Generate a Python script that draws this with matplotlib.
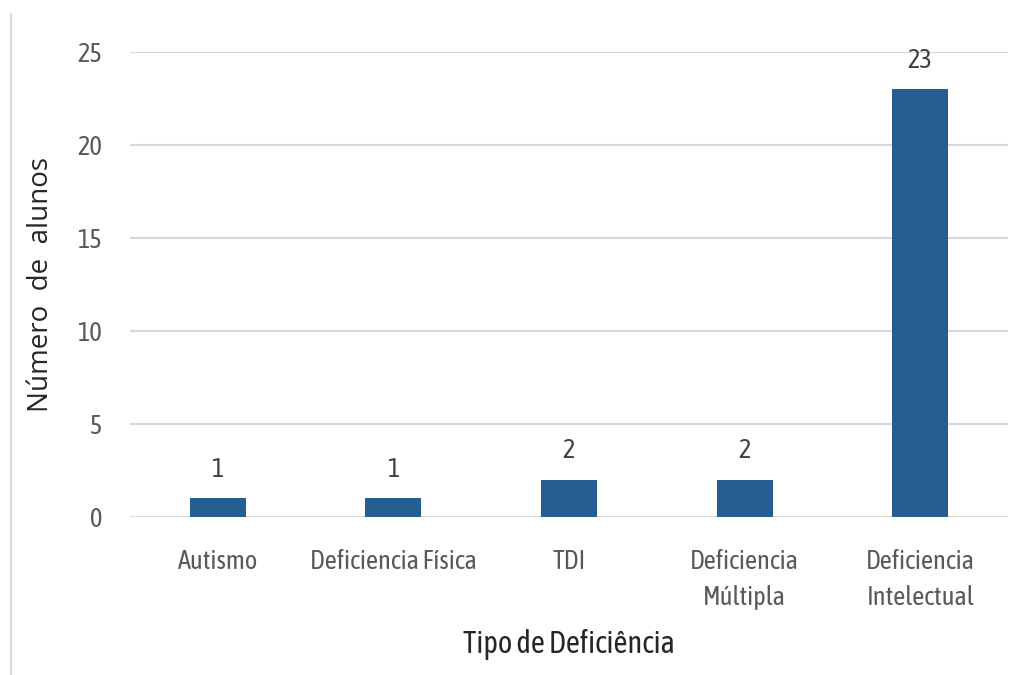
import matplotlib.pyplot as plt

categorias = ['Autismo', 'Deficiencia Física', 'TDI', 'Deficiencia\nMúltipla', 'Deficiencia\nIntelectual']
alunos = [1, 1, 2, 2, 23]
yticks = [0, 5, 10, 15, 20, 25]

plt.rcParams['font.family'] = ['Asap Condensed', 'DejaVu Sans']

fig = plt.figure(figsize=(10.24, 6.75), dpi=100)
ax = fig.add_axes([130 / 1024, 1 - 517 / 675, 878 / 1024, 465 / 675])

x = range(len(categorias))
barras = ax.bar(x, alunos, width=0.32, color='#255E91', zorder=3)
ax.bar_label(barras, padding=12, fontsize=19, color='#404040')

ax.set_xlim(-0.5, 4.5)
ax.set_ylim(0, 25)
ax.set_yticks(yticks)
ax.set_xticks(list(x))
ax.set_xticklabels(categorias, linespacing=1.55)
ax.tick_params(axis='both', length=0, labelsize=19, colors='#595959')
ax.tick_params(axis='x', pad=23)
ax.tick_params(axis='y', pad=20)
ax.grid(axis='y', color='#d9d9d9', linewidth=1.5, zorder=0)
for s in ax.spines.values():
    s.set_visible(False)

ax.set_xlabel('Tipo de Deficiência', fontsize=22, color='#262626', labelpad=14)
ax.set_ylabel('Número  de  alunos', fontsize=20, color='#262626', labelpad=16,
              family=['Open Sans', 'DejaVu Sans'])

# linha fina a esquerda
fig.add_artist(plt.Line2D([11 / 1024, 11 / 1024], [0, 1 - 14 / 675], color='#d9d9d9', linewidth=1.5))

fig.savefig('out.png', dpi=100)
